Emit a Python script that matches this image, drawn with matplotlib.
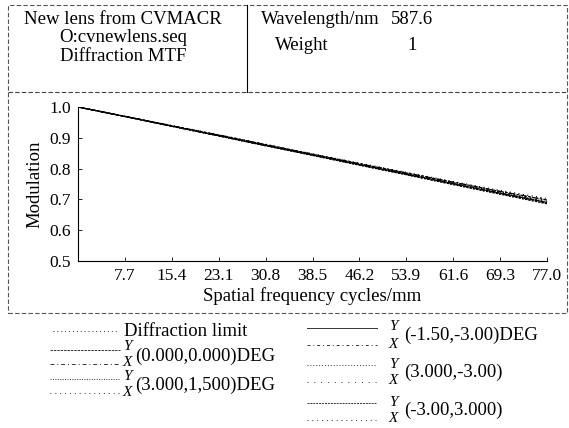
import matplotlib
matplotlib.use("Agg")
from matplotlib import pyplot as plt
from matplotlib.lines import Line2D
from matplotlib.patches import Rectangle

plt.rcParams['font.family'] = ['Liberation Serif', 'DejaVu Serif']

# spatial frequency (cycles/mm) and modulation for each field
freq = [0, 7.7, 15.4, 23.1, 30.8, 38.5, 46.2, 53.9, 61.6, 69.3, 77.0]
diff_limit = [1.0, 0.970, 0.940, 0.910, 0.879, 0.848, 0.818, 0.788, 0.758, 0.729, 0.703]
y_000_000 = [1.0, 0.970, 0.939, 0.909, 0.878, 0.847, 0.816, 0.786, 0.756, 0.726, 0.698]
x_000_000 = [1.0, 0.970, 0.939, 0.909, 0.878, 0.847, 0.816, 0.786, 0.756, 0.726, 0.698]
y_300_150 = [1.0, 0.969, 0.938, 0.907, 0.876, 0.845, 0.814, 0.783, 0.752, 0.722, 0.692]
x_300_150 = [1.0, 0.970, 0.939, 0.908, 0.877, 0.846, 0.815, 0.785, 0.754, 0.724, 0.695]
y_150_300 = [1.0, 0.969, 0.938, 0.907, 0.875, 0.844, 0.813, 0.782, 0.751, 0.720, 0.690]
x_150_300 = [1.0, 0.969, 0.938, 0.907, 0.876, 0.845, 0.814, 0.783, 0.752, 0.721, 0.691]
y_300_m300 = [1.0, 0.969, 0.937, 0.906, 0.874, 0.843, 0.811, 0.780, 0.748, 0.717, 0.686]
x_300_m300 = [1.0, 0.969, 0.938, 0.906, 0.875, 0.844, 0.812, 0.781, 0.750, 0.719, 0.688]
y_m300_300 = [1.0, 0.969, 0.937, 0.906, 0.874, 0.843, 0.811, 0.780, 0.748, 0.717, 0.686]
x_m300_300 = [1.0, 0.969, 0.938, 0.906, 0.875, 0.844, 0.812, 0.781, 0.750, 0.719, 0.688]

xticks = [7.7, 15.4, 23.1, 30.8, 38.5, 46.2, 53.9, 61.6, 69.3, 77.0]
yticks = [0.5, 0.6, 0.7, 0.8, 0.9, 1.0]

W, H = 569, 428
fig = plt.figure(figsize=(W / 100, H / 100), dpi=100)

def fx(x):
    return x / W

def fy(y):
    return 1 - y / H

# line styles (one per curve, reused for the legend handles)
styles = {
    'diff': (0, (1, 3)),
    'y00': (0, (2.5, 1)),
    'x00': (0, (4, 3, 1, 3)),
    'y31': (0, (1, 1.5)),
    'x31': (0, (1, 4)),
    'y13': '-',
    'x13': (0, (3, 3, 1, 3)),
    'y33': (0, (1, 2)),
    'x33': (0, (1, 6)),
    'ym3': (0, (2, 1)),
    'xm3': (0, (1, 4)),
}

ax = fig.add_axes([fx(78), fy(261), fx(547 - 78), (261 - 107) / H])
series = [
    (diff_limit, 'diff'), (y_000_000, 'y00'), (x_000_000, 'x00'),
    (y_300_150, 'y31'), (x_300_150, 'x31'), (y_150_300, 'y13'),
    (x_150_300, 'x13'), (y_300_m300, 'y33'), (x_300_m300, 'x33'),
    (y_m300_300, 'ym3'), (x_m300_300, 'xm3'),
]
for vals, key in series:
    ax.plot(freq, vals, color='black', lw=0.8, linestyle=styles[key])

ax.set_xlim(0, 77)
ax.set_ylim(0.5, 1.0)
ax.set_xticks(xticks)
ax.set_xticklabels([f'{t:.1f}' for t in xticks])
ax.set_yticks(yticks)
ax.set_yticklabels([f'{t:.1f}' for t in yticks])
ax.tick_params(direction='in', length=3, width=0.6, labelsize=12.5, pad=5)
for s in ['top', 'right']:
    ax.spines[s].set_visible(False)
for s in ['left', 'bottom']:
    ax.spines[s].set_linewidth(0.8)
ax.set_ylabel('Modulation', fontsize=13.5, labelpad=4)
ax.set_xlabel('Spatial frequency cycles/mm', fontsize=13.5, labelpad=2)

# header frame
fig.add_artist(Rectangle((fx(8), fy(313)), fx(567 - 8), (313 - 5) / H, fill=False,
                         edgecolor='#555555', lw=0.8, linestyle=(0, (4, 2)),
                         transform=fig.transFigure))
fig.add_artist(Line2D([fx(8), fx(567)], [fy(92), fy(92)], color='#444444', lw=0.8,
                      linestyle=(0, (4, 2))))
fig.add_artist(Line2D([fx(247), fx(247)], [fy(5), fy(92)], color='black', lw=0.8))

hkw = dict(fontsize=13.5, ha='center', va='center')
fig.text(fx(123), fy(19), 'New lens from CVMACR', **hkw)
fig.text(fx(123), fy(38), 'O:cvnewlens.seq', **hkw)
fig.text(fx(123), fy(57), 'Diffraction MTF', **hkw)
fig.text(fx(320), fy(19), 'Wavelength/nm', **hkw)
fig.text(fx(412), fy(19), '587.6', **hkw)
fig.text(fx(302), fy(45), 'Weight', **hkw)
fig.text(fx(412), fy(45), '1', **hkw)

# legend below the plot
def handle(x0, x1, y, key):
    fig.add_artist(Line2D([fx(x0), fx(x1)], [fy(y), fy(y)], color='#333333', lw=0.7,
                          linestyle=styles[key]))

lkw = dict(fontsize=13.5, va='center', ha='left')
ikw = dict(fontsize=11, va='center', ha='left', style='italic')

handle(53, 118, 331, 'diff')
fig.text(fx(124), fy(331), 'Diffraction limit', **lkw)

left_rows = [(350, '(0.000,0.000)DEG', 'y00', 'x00'),
             (379, '(3.000,1,500)DEG', 'y31', 'x31')]
for yy, label, ky, kx in left_rows:
    handle(50, 120, yy, ky)
    handle(50, 120, yy + 14, kx)
    fig.text(fx(123), fy(yy - 3), 'Y', **ikw)
    fig.text(fx(123), fy(yy + 13), 'X', **ikw)
    fig.text(fx(135), fy(yy + 6), label, **lkw)

right_rows = [(328, '(-1.50,-3.00)DEG', 'y13', 'x13'),
              (365, '(3.000,-3.00)', 'y33', 'x33'),
              (403, '(-3.00,3.000)', 'ym3', 'xm3')]
for yy, label, ky, kx in right_rows:
    handle(307, 377, yy, ky)
    handle(307, 377, yy + 17, kx)
    fig.text(fx(389), fy(yy - 1), 'Y', **ikw)
    fig.text(fx(389), fy(yy + 16), 'X', **ikw)
    fig.text(fx(404), fy(yy + 7), label, **lkw)

fig.savefig('out.png', dpi=100)
